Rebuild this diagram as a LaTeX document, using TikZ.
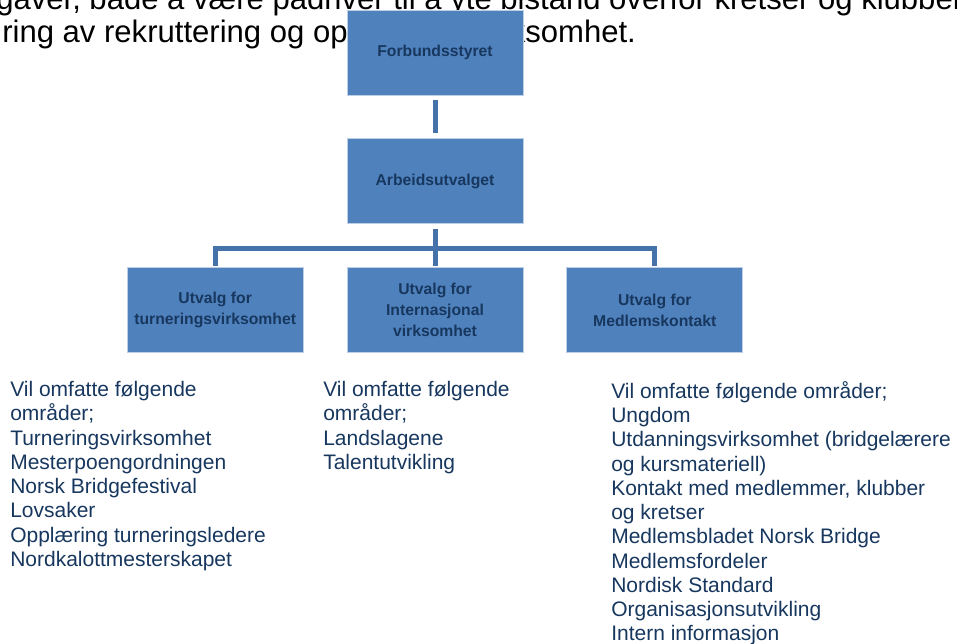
\documentclass[tikz,border=0pt]{standalone}
\usepackage{fontspec}
\setmainfont{Liberation Sans}
\usetikzlibrary{positioning}
\definecolor{boxblue}{RGB}{79,129,189}
\definecolor{boxedge}{RGB}{190,206,230}
\definecolor{linkblue}{RGB}{70,114,170}
\definecolor{navy}{RGB}{23,55,94}

\begin{document}
\begin{tikzpicture}[x=0.75pt,y=-0.75pt,node distance=32.25pt,
        unit/.style={rectangle,draw=boxedge,line width=0.6pt,fill=boxblue,
          minimum width=132pt,minimum height=63.75pt,inner sep=2pt,align=center,
          text=navy,font=\fontsize{11.8}{15.75}\selectfont\bfseries},
        link/.style={draw=linkblue,line width=3.75pt},
        areas/.style={anchor=north west,align=left,inner sep=0pt,text=navy,
          font=\fontsize{15.75}{18.2}\selectfont},
        bgtext/.style={anchor=base west,inner sep=0pt,font=\fontsize{23.3}{27}\selectfont}]
        \useasboundingbox (0,0) rectangle (957,643);
        \clip (0,0) rectangle (957,643);
        % running text of the page behind the chart
        \node[bgtext] (line1) at (-4,9) {gaver, både å være pådriver til å yte bistand overfor kretser og klubber};
        \node[bgtext] (line2) at (2,42) {ring av rekruttering og opplysningsvirksomhet.};
        % the chart
        \node[unit] (styret) at (435,52.5) {Forbundsstyret};
        \node[unit,below=of styret] (au) {Arbeidsutvalget};
        \node[unit,below=of au] (intl) {Utvalg for\\Internasjonal\\virksomhet};
        \node[unit,left=of intl] (turn) {Utvalg for\\turneringsvirksomhet};
        \node[unit,right=of intl] (medl) {Utvalg for\\Medlemskontakt};
        \draw[link,shorten <=3.75pt,shorten >=3.75pt] (styret) -- (au);
        \draw[link,shorten <=3.75pt] (au.south) -- ++(0,24) coordinate (split);
        \draw[link,shorten >=0.75pt] (split) -| (turn.north);
        \draw[link,shorten >=0.75pt] (split) -| (medl.north);
        \draw[link,shorten >=0.75pt] (split) -- (intl.north);
        % what each committee covers
        \node[areas] (turnareas) at (10,381) {Vil omfatte følgende\\områder;\\Turneringsvirksomhet\\Mesterpoengordningen\\Norsk Bridgefestival\\Lovsaker\\Opplæring turneringsledere\\Nordkalottmesterskapet};
        \node[areas] (intlareas) at (323,381) {Vil omfatte følgende\\områder;\\Landslagene\\Talentutvikling};
        \node[areas] (medlareas) at (611,381) {Vil omfatte følgende områder;\\Ungdom\\Utdanningsvirksomhet (bridgelærere\\og kursmateriell)\\Kontakt med medlemmer, klubber\\og kretser\\Medlemsbladet Norsk Bridge\\Medlemsfordeler\\Nordisk Standard\\Organisasjonsutvikling\\Intern informasjon};
\end{tikzpicture}
\end{document}
